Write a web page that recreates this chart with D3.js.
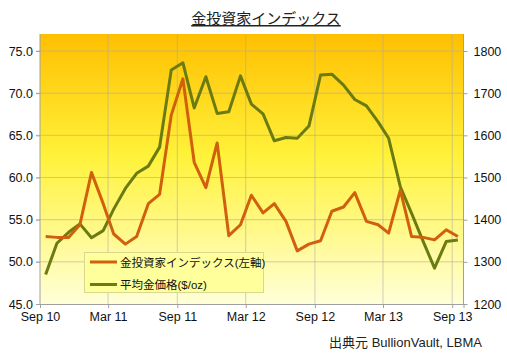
<!DOCTYPE html>
<html><head><meta charset="utf-8">
<script src="https://cdn.jsdelivr.net/npm/d3@7"></script>
<style>body{margin:0;background:#fff;}svg{display:block;}</style>
</head><body>
<svg id="c" width="507" height="357"></svg>
<script>
const months = ["2010-09","2010-10","2010-11","2010-12","2011-01","2011-02","2011-03","2011-04","2011-05","2011-06","2011-07","2011-08","2011-09","2011-10","2011-11","2011-12","2012-01","2012-02","2012-03","2012-04","2012-05","2012-06","2012-07","2012-08","2012-09","2012-10","2012-11","2012-12","2013-01","2013-02","2013-03","2013-04","2013-05","2013-06","2013-07","2013-08","2013-09"];
const investorIndex = [53.0,52.9,52.9,54.4,60.6,56.9,53.3,52.1,53.0,56.9,58.0,67.4,71.7,61.8,58.8,64.1,53.1,54.4,57.9,55.8,56.9,54.8,51.3,52.1,52.5,56.0,56.5,58.2,54.8,54.4,53.4,58.5,53.0,52.9,52.6,53.8,53.0];
const goldPrice = [1270,1344,1370,1390,1357,1374,1425,1474,1510,1527,1572,1755,1772,1665,1739,1652,1656,1741,1674,1651,1587,1595,1593,1622,1743,1745,1719,1685,1670,1632,1593,1478,1415,1348,1285,1348,1352];
const leftTicks = [45,50,55,60,65,70,75];
const rightTicks = [1200,1300,1400,1500,1600,1700,1800];
const xTickDates = ["2010-09","2011-03","2011-09","2012-03","2012-09","2013-03","2013-09"];
const xTickLabels = ["Sep 10","Mar 11","Sep 11","Mar 12","Sep 12","Mar 13","Sep 13"];
const title = "金投資家インデックス";
const seriesNames = ["金投資家インデックス(左軸)","平均金価格($/oz)"];
const source = "出典元 BullionVault, LBMA";

const svg = d3.select("#c");
const L = 40, R = 463.5, T = 34, B = 304;
const parse = d3.timeParse("%Y-%m");
const mid = s => { const d = parse(s); d.setDate(16); return d; };
const x = d3.scaleTime().domain([parse("2010-09"), parse("2013-10")]).range([L, R]);
const yL = d3.scaleLinear().domain([45,75]).range([B, 51]);
const yR = d3.scaleLinear().domain([1200,1800]).range([B, 51]);

const defs = svg.append("defs");
const g = defs.append("linearGradient").attr("id","bg").attr("x1",0).attr("y1",0).attr("x2",0).attr("y2",1);
g.append("stop").attr("offset","0%").attr("stop-color","#ffbf00");
g.append("stop").attr("offset","45%").attr("stop-color","#fff23a");
g.append("stop").attr("offset","100%").attr("stop-color","#ffffd8");

svg.append("rect").attr("x",L).attr("y",T).attr("width",R-L).attr("height",B-T).attr("fill","url(#bg)");

// grid
svg.append("g").selectAll("line").data(leftTicks.slice(1)).join("line")
  .attr("x1",L-4).attr("x2",R).attr("y1",d=>yL(d)).attr("y2",d=>yL(d))
  .attr("stroke","#a8a8a0").attr("stroke-opacity",0.55).attr("stroke-width",1);
svg.append("g").selectAll("line").data(xTickDates.slice(1)).join("line")
  .attr("x1",d=>x(parse(d))).attr("x2",d=>x(parse(d))).attr("y1",T).attr("y2",B)
  .attr("stroke","#a8a8a0").attr("stroke-opacity",0.55).attr("stroke-width",1);

// axes
const font = "'Liberation Sans', Arial, sans-serif";
const axL = svg.append("g").attr("transform",`translate(${L},0)`)
  .call(d3.axisLeft(yL).tickValues(leftTicks).tickFormat(d3.format(".1f")).tickSize(4).tickPadding(3));
const axR = svg.append("g").attr("transform",`translate(${R},0)`)
  .call(d3.axisRight(yR).tickValues(rightTicks).tickFormat(d3.format("d")).tickSize(4).tickPadding(6));
const axB = svg.append("g").attr("transform",`translate(0,${B})`)
  .call(d3.axisBottom(x).tickValues(xTickDates.map(parse)).tickFormat((d,i)=>xTickLabels[i]).tickSize(4).tickPadding(4));
[axL,axR,axB].forEach(a=>{
  a.select(".domain").attr("stroke","#a0a0a0");
  a.selectAll(".tick line").attr("stroke","#a0a0a0");
  a.selectAll("text").attr("font-family",font).attr("font-size","12.5px").attr("fill","#111");
});
axL.select(".domain").attr("d",`M0,${T}V${B}`);
axR.select(".domain").attr("d",`M0,${T}V${B}`);

// lines
const data = months.map((m,i)=>({d:mid(m), a:investorIndex[i], b:goldPrice[i]}));
svg.append("path").datum(data).attr("fill","none").attr("stroke","#6b7b12").attr("stroke-width",3)
  .attr("stroke-linejoin","round").attr("d", d3.line().x(d=>x(d.d)).y(d=>yR(d.b)));
svg.append("path").datum(data).attr("fill","none").attr("stroke","#d0600e").attr("stroke-width",3)
  .attr("stroke-linejoin","round").attr("d", d3.line().x(d=>x(d.d)).y(d=>yL(d.a)));

// legend
const lg = svg.append("g");
lg.append("rect").attr("x",84.5).attr("y",252.5).attr("width",179).attr("height",40)
  .attr("fill","#ffff9c").attr("stroke","#d8d890").attr("stroke-width",1);
const lc = ["#d0600e","#6b7b12"];
seriesNames.forEach((n,i)=>{
  const yy = 262 + i*22.5;
  lg.append("line").attr("x1",90).attr("x2",117).attr("y1",yy).attr("y2",yy).attr("stroke",lc[i]).attr("stroke-width",3);
  lg.append("text").attr("x",120).attr("y",yy+4.5).text(n)
    .attr("font-family","'Liberation Sans', 'Noto Sans CJK JP', sans-serif").attr("font-size","11.5px").attr("fill","#111");
});

// title
svg.append("text").attr("x",266).attr("y",24).attr("text-anchor","middle").text(title)
  .attr("font-family","'Noto Sans CJK JP', sans-serif").attr("font-size","15px").attr("fill","#222")
  .attr("text-decoration","underline");

// source
svg.append("text").attr("x",482).attr("y",347).attr("text-anchor","end").text(source)
  .attr("font-family","'Liberation Sans', 'Noto Sans CJK JP', sans-serif").attr("font-size","13px").attr("fill","#222");
</script>
</body></html>
